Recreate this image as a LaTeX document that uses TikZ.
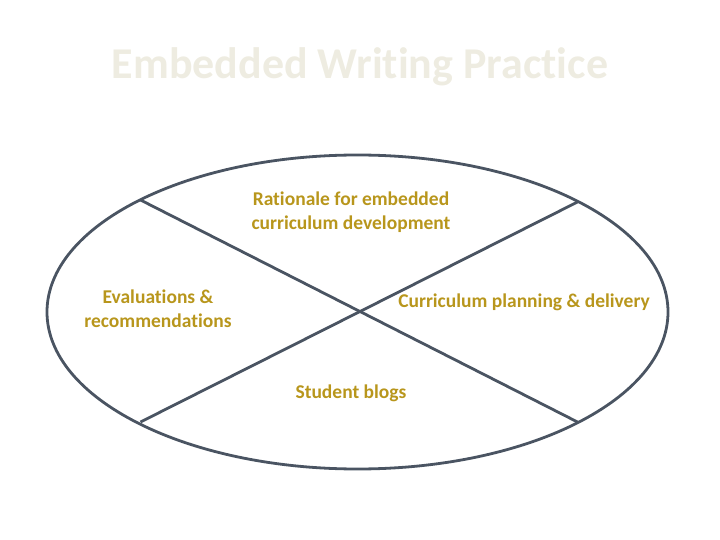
\documentclass[tikz,border=0pt]{standalone}
\usepackage{fontspec}
\setmainfont[Ligatures=NoCommon]{Carlito}
\usetikzlibrary{shapes.geometric,calc}
\definecolor{titlecol}{HTML}{EEECE1}
\definecolor{linecol}{HTML}{4A5462}
\definecolor{txtcol}{HTML}{B8961C}
\begin{document}
\begin{tikzpicture}[x=1pt,y=-1pt,
  lbl/.style={text=txtcol,font=\fontsize{19.5}{24}\selectfont\bfseries,align=center,inner sep=0pt},
  ln/.style={draw=linecol,line width=2.8pt}]
\useasboundingbox (0,0) rectangle (720,540);
\node[text=titlecol,font=\fontsize{44}{48}\selectfont\bfseries] (title) at (360,67) {Embedded Writing Practice};
\node[ln,ellipse,minimum width=621pt,minimum height=314pt,inner sep=0pt] (ell) at (357.5,312) {};
\coordinate (tl) at ($(ell.center)+(-217,-112)$);
\coordinate (tr) at ($(ell.center)+(220,-110)$);
\coordinate (bl) at ($(ell.center)+(-217,110)$);
\coordinate (br) at ($(ell.center)+(220,110)$);
\draw[ln] (tl) -- (br);
\draw[ln] (tr) -- (bl);
\node[lbl] (rat) at (351,212) {Rationale for embedded\\curriculum development};
\node[lbl] (eval) at (158,309) {Evaluations \&\\recommendations};
\node[lbl] (plan) at (524,302) {Curriculum planning \& delivery};
\node[lbl] (blog) at (351,393) {Student blogs};
\end{tikzpicture}
\end{document}
